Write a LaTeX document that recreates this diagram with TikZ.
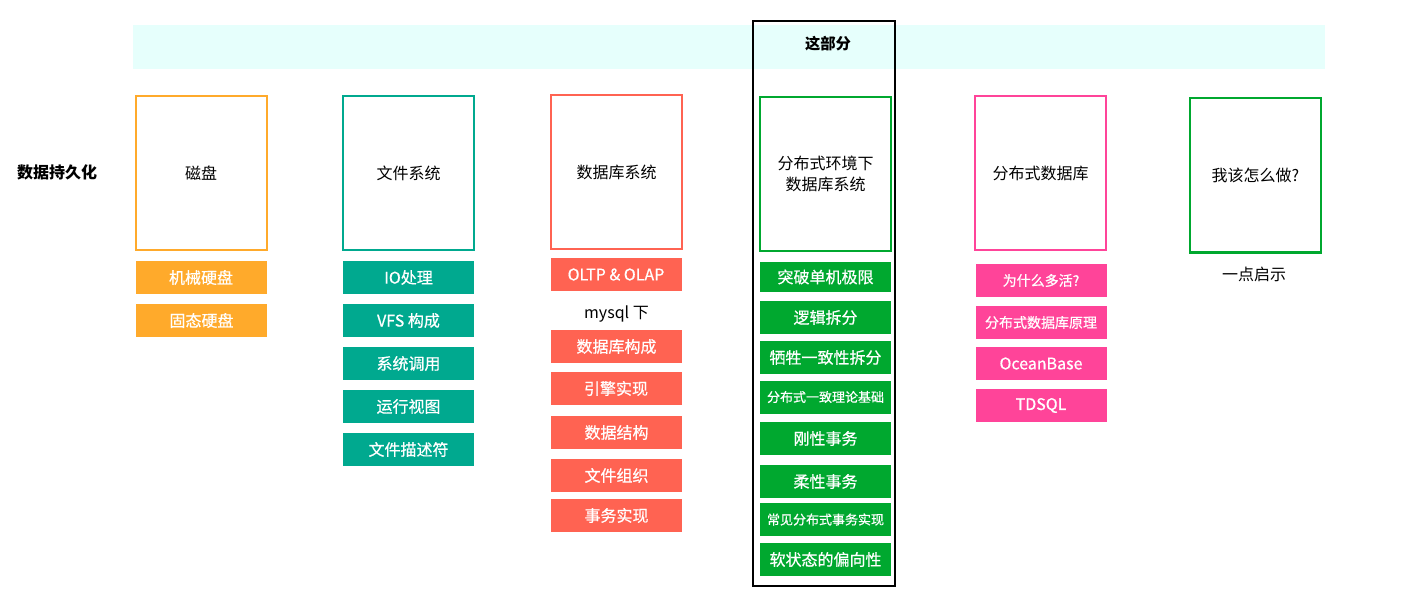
\documentclass[tikz,border=0pt]{standalone}
\usepackage{fontspec}
\newfontfamily\cjk{Noto Sans CJK SC}
\newfontfamily\cjkm[FakeBold=0.6]{Noto Sans CJK SC}
\definecolor{cOrange}{HTML}{FFAA2B}
\definecolor{cTeal}{HTML}{00A98F}
\definecolor{cRed}{HTML}{FF6352}
\definecolor{cGreen}{HTML}{00A82F}
\definecolor{cPink}{HTML}{FF4499}
\definecolor{cBand}{HTML}{E6FFFC}
\tikzset{
  bigbox/.style={draw=#1, line width=1.5pt, fill=white, minimum width=98.25pt, minimum height=115.5pt, inner sep=0pt, align=center, font=\cjk\fontsize{12}{15.5}\selectfont},
  item/.style={fill=#1, text=white, minimum width=98.25pt, minimum height=24.75pt, inner sep=0pt, font=\cjkm\fontsize{12}{14}\selectfont},
  smallitem/.style={item=#1, font=\cjkm\fontsize{9.75}{11}\selectfont},
  miditem/.style={item=#1, font=\cjkm\fontsize{10.5}{12}\selectfont},
  plain/.style={inner sep=0pt, font=\cjk\fontsize{12}{14}\selectfont},
}
\begin{document}
\begin{tikzpicture}[x=0.75pt,y=-0.75pt]
\useasboundingbox (0,0) rectangle (1405,595);
% band
\node[fill=cBand, inner sep=0pt, minimum width=894pt, minimum height=33pt, anchor=north west] (band) at (133,25) {};
% title
\node[plain, font=\cjk\bfseries\fontsize{12}{14}\selectfont] (title) at (57,172) {数据持久化};
% column 1
\node[bigbox=cOrange] (b1) at (201,173) {磁盘};
\node[item=cOrange] (b1a) at (201,277.5) {机械硬盘};
\node[item=cOrange] (b1b) at (201.5,320.5) {固态硬盘};
% column 2
\node[bigbox=cTeal] (b2) at (408.5,173) {文件系统};
\node[item=cTeal] (b2a) at (408.5,277.5) {IO处理};
\node[item=cTeal] (b2b) at (408.5,320.5) {VFS 构成};
\node[item=cTeal] (b2c) at (408.5,363.5) {系统调用};
\node[item=cTeal] (b2d) at (408.5,406.5) {运行视图};
\node[item=cTeal] (b2e) at (408.5,449.5) {文件描述符};
% column 3
\node[bigbox=cRed] (b3) at (616.5,172) {数据库系统};
\node[item=cRed] (b3a) at (616,274.5) {OLTP \& OLAP};
\node[plain] (b3t) at (616.5,314) {mysql 下};
\node[item=cRed] (b3b) at (616.5,346.5) {数据库构成};
\node[item=cRed] (b3c) at (616,388.5) {引擎实现};
\node[item=cRed] (b3d) at (616.5,432.5) {数据结构};
\node[item=cRed] (b3e) at (616.5,475.5) {文件组织};
\node[item=cRed] (b3f) at (616.5,515.5) {事务实现};
% column 4
\node[bigbox=cGreen] (b4) at (825.5,174) {分布式环境下\\数据库系统};
\node[item=cGreen, minimum height=23pt] (b4a) at (825.5,277) {突破单机极限};
\node[item=cGreen] (b4b) at (825.5,317.5) {逻辑拆分};
\node[item=cGreen] (b4c) at (825.5,357.5) {牺牲一致性拆分};
\node[smallitem=cGreen] (b4d) at (825.5,397) {分布式一致理论基础};
\node[item=cGreen] (b4e) at (825.5,438.5) {刚性事务};
\node[item=cGreen] (b4f) at (825.5,481.5) {柔性事务};
\node[smallitem=cGreen] (b4g) at (825.5,519.5) {常见分布式事务实现};
\node[item=cGreen] (b4h) at (825.5,559.5) {软状态的偏向性};
% frame
\node[draw=black, line width=1.5pt, inner sep=0pt, minimum width=106.5pt, minimum height=423.75pt] (frame) at (824,303.5) {};
\node[plain, font=\cjk\bfseries\fontsize{11.5}{13}\selectfont] (part) at (828,44) {这部分};
% column 5
\node[bigbox=cPink] (b5) at (1040.5,173.5) {分布式数据库};
\node[miditem=cPink] (b5a) at (1041,280.5) {为什么多活?};
\node[miditem=cPink] (b5b) at (1041,322.5) {分布式数据库原理};
\node[item=cPink] (b5c) at (1041,363.5) {OceanBase};
\node[item=cPink] (b5d) at (1041,405.5) {TDSQL};
% column 6
\node[bigbox=cGreen] (b6) at (1255.5,175.5) {我该怎么做?};
\node[plain] (b6t) at (1254,274) {一点启示};
\end{tikzpicture}
\end{document}
